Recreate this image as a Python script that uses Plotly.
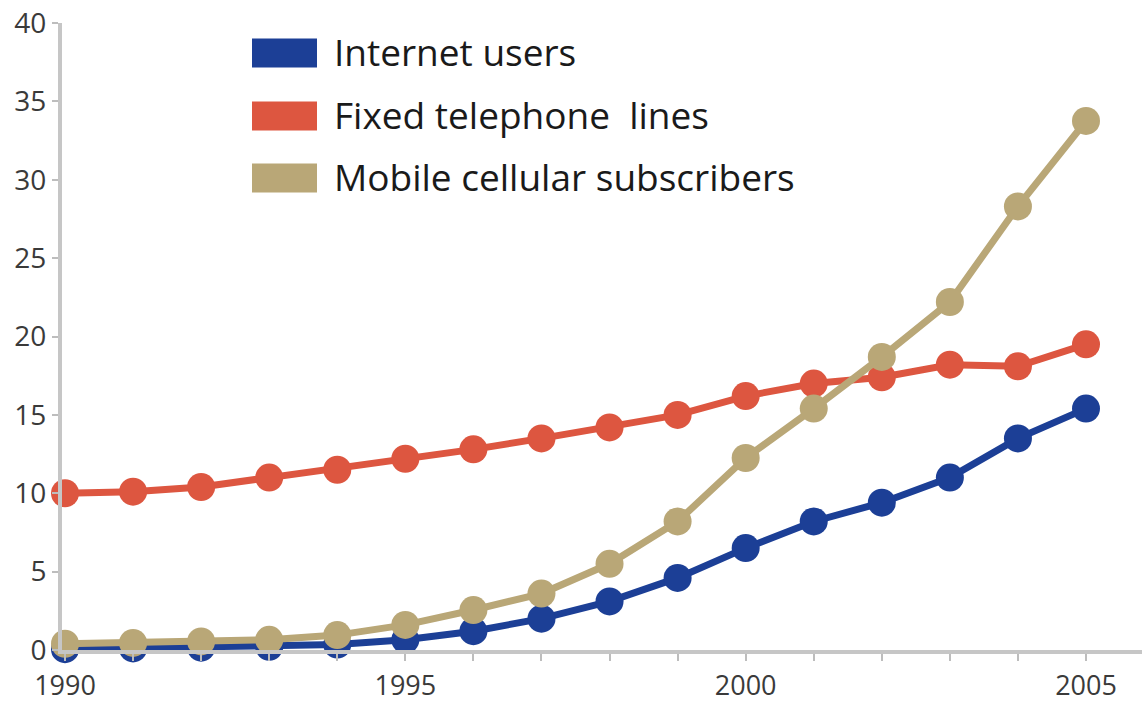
import plotly.graph_objects as go

years = list(range(1990, 2006))
internet_users = [0.05, 0.1, 0.15, 0.2, 0.35, 0.65, 1.2, 2.0, 3.1, 4.6, 6.5, 8.2, 9.4, 11.0, 13.5, 15.4]
fixed_lines = [10.0, 10.1, 10.4, 11.0, 11.5, 12.2, 12.8, 13.5, 14.2, 15.0, 16.2, 17.0, 17.4, 18.2, 18.1, 19.5]
mobile_subs = [0.4, 0.45, 0.55, 0.65, 0.95, 1.6, 2.55, 3.6, 5.5, 8.2, 12.25, 15.4, 18.7, 22.2, 28.3, 33.75]

series_names = ["Internet users", "Fixed telephone  lines", "Mobile cellular subscribers"]
series_colors = ["#1c3f96", "#dd5640", "#b9a777"]
y_ticks = [0, 5, 10, 15, 20, 25, 30, 35, 40]
x_labels = {1990: "1990", 1995: "1995", 2000: "2000", 2005: "2005"}

W, H = 1142, 703
ML, MR, MT, MB = 62, 0, 23, 53
PW, PH = W - ML - MR, H - MT - MB

fig = go.Figure()
# draw order: blue, red, tan
for vals, col, name in [(internet_users, series_colors[0], series_names[0]),
                        (fixed_lines, series_colors[1], series_names[1]),
                        (mobile_subs, series_colors[2], series_names[2])]:
    fig.add_trace(go.Scatter(
        x=years, y=vals, mode="lines+markers", name=name,
        line=dict(color=col, width=7),
        marker=dict(color=col, size=28),
        cliponaxis=False, showlegend=False,
    ))

# manual legend (swatches + text) in pixel-derived paper coords
def px_x(px):
    return (px - ML) / PW

def px_y(py):
    return (H - MB - py) / PH

shapes = []
annotations = []
legend_rows = [(53, series_names[0], series_colors[0]),
               (116, series_names[1], series_colors[1]),
               (178, series_names[2], series_colors[2])]
for cy, name, col in legend_rows:
    shapes.append(dict(type="rect", xref="paper", yref="paper",
                       x0=px_x(252), x1=px_x(317), y0=px_y(cy - 14.5), y1=px_y(cy + 14.5),
                       fillcolor=col, line=dict(width=0)))
    annotations.append(dict(xref="paper", yref="paper", x=px_x(332), y=px_y(cy - 1.5),
                            text=name, showarrow=False, xanchor="left", yanchor="middle",
                            font=dict(family="Open Sans", size=37, color="#1a1a1a")))

x0 = 1990 - 3 / 68.07
x1 = 2005 + 56 / 68.07

fig.update_layout(
    width=W, height=H,
    margin=dict(l=ML, r=MR, t=MT, b=MB, pad=0, autoexpand=False),
    paper_bgcolor="white", plot_bgcolor="white",
    shapes=shapes, annotations=annotations,
    xaxis=dict(
        range=[x0, x1], showgrid=False, zeroline=False, automargin=False,
        showline=True, linecolor="#c6c6c6", linewidth=4,
        ticks="outside", ticklen=7, tickwidth=2, tickcolor="#bdbdbd",
        tickvals=years, ticktext=[x_labels.get(y, "") for y in years],
        tickfont=dict(family="Open Sans", size=27, color="#3a3a3a"),
        ticklabelstandoff=2,
    ),
    yaxis=dict(
        range=[0, 40], showgrid=False, zeroline=False, automargin=False,
        showline=True, linecolor="#c6c6c6", linewidth=4,
        ticks="outside", ticklen=6, tickwidth=2, tickcolor="#bdbdbd",
        tickvals=y_ticks, ticktext=[str(v) for v in y_ticks],
        tickfont=dict(family="Open Sans", size=28, color="#3a3a3a"),
    ),
)

fig.write_html("out.html")
